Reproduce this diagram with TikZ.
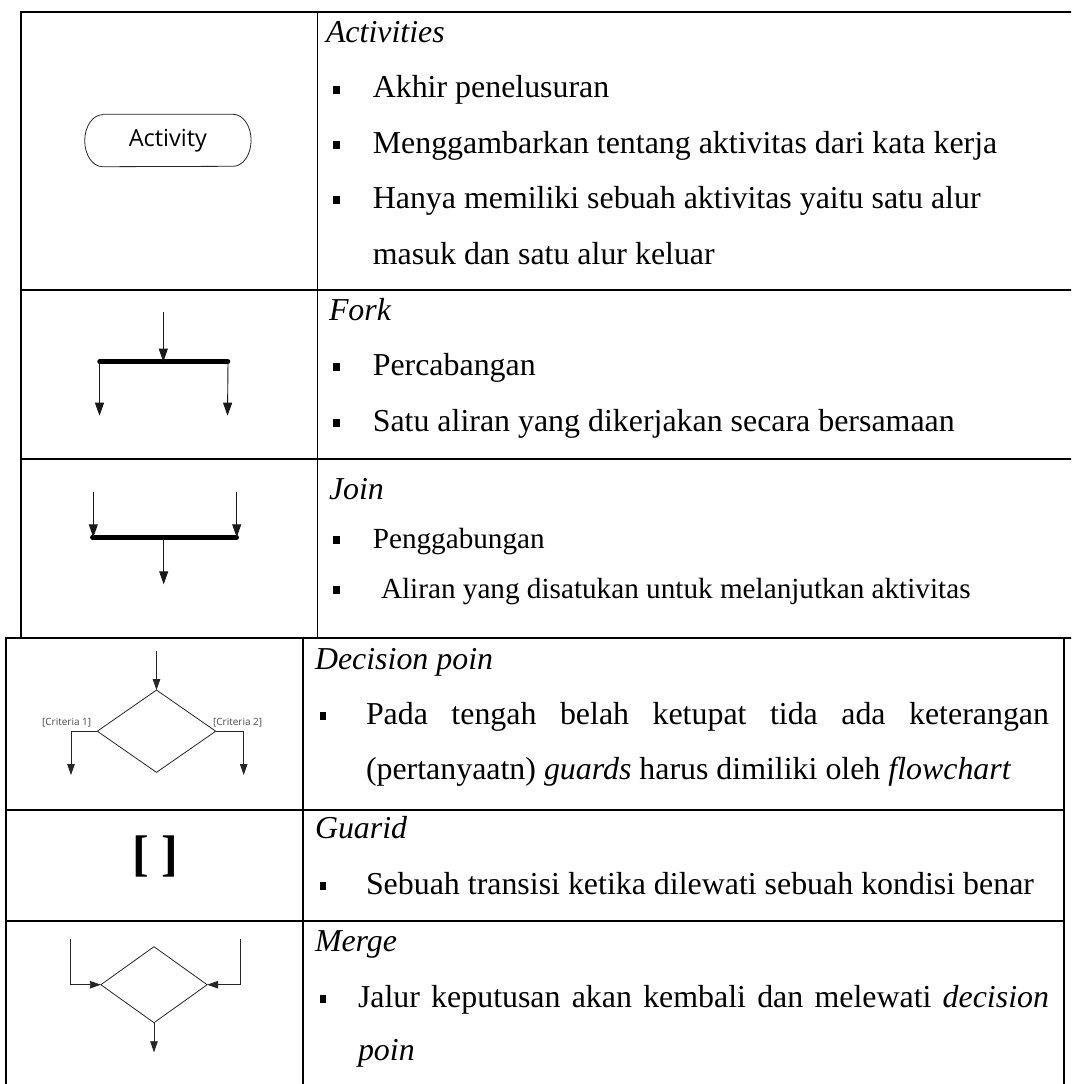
\documentclass[tikz,border=0pt]{standalone}
\usepackage{fontspec}
\setmainfont{Liberation Serif}
\newfontfamily\uisans{Open Sans}
\newfontfamily\brackfont{Liberation Serif}
\usetikzlibrary{arrows.meta,shapes.geometric}

\begin{document}
\begin{tikzpicture}[x=1pt,y=-1pt,
  grid/.style={line width=1.9pt, line cap=rect},
  flow/.style={line width=0.9pt, draw=black!90, -{Triangle[width=9pt,length=13pt]}},
  thinflow/.style={line width=0.8pt, draw=black!85, -{Triangle[width=7.5pt,length=11pt]}},
  syncbar/.style={line width=4.5pt, line cap=round},
  txt/.style={anchor=base west, inner sep=0pt, outer sep=0pt, font=\fontsize{31.9}{36}\selectfont},
  txtsmall/.style={txt, font=\fontsize{29.2}{33}\selectfont},
  head/.style={txt, font=\fontsize{31.9}{36}\selectfont\itshape},
  bulletbox/.style={fill=black, draw=none, minimum width=6.5pt, minimum height=8pt, inner sep=0pt, outer sep=0pt},
  gate/.style={diamond, draw=black!85, line width=0.8pt, inner sep=0pt, outer sep=0pt},
  guardlabel/.style={font=\uisans\fontsize{10}{12}\selectfont, text=black!70, inner sep=0pt},
]
\useasboundingbox (0,0) rectangle (1071,1084);
\fill[white] (0,0) rectangle (1071,1084);
\clip (0,0) rectangle (1071,1084);

% ---------- table rules ----------
% upper table (Activities, Fork, Join)
\draw[grid] (21,12) -- (1080,12);
\draw[grid] (21,12) -- (21,638);
\draw[grid] (317.5,12) -- (317.5,638);
\draw[grid] (21,290) -- (1080,290);
\draw[grid] (21,459) -- (1080,459);
\draw[grid] (6,638) -- (1080,638);
% lower table (Decision, Guard, Merge)
\draw[grid] (6,638) -- (6,1090);
\draw[grid] (303,638) -- (303,1090);
\draw[grid] (1064,638) -- (1064,1090);
\draw[grid] (6,810) -- (1064,810);
\draw[grid] (6,921) -- (1064,921);

% ---------- Activity ----------
\node[inner sep=0pt, minimum width=166pt, minimum height=52pt,
      font=\uisans\fontsize{23.5}{28}\selectfont] (act) at (167.9,140.5) {Activity};
\draw[draw=black!85, line width=0.8pt]
  ([xshift=18pt]act.north west) -- ([xshift=-18pt]act.north east)
  arc[start angle=90, end angle=-90, x radius=18pt, y radius=26pt]
  -- ([xshift=18pt]act.south west)
  arc[start angle=270, end angle=90, x radius=18pt, y radius=26pt] -- cycle;

\node[head] (hAct) at (326,42) {Activities};
\node[bulletbox] (b11) at (336.5,89.5) {};
\node[txt] (t11) at (372.8,97.5) {Akhir penelusuran};
\node[bulletbox] (b12) at (336.5,144.5) {};
\node[txt] (t12) at (372.8,153) {Menggambarkan tentang aktivitas dari kata kerja};
\node[bulletbox] (b13) at (336.5,200) {};
\node[txt] (t13) at (372.8,208.5) {Hanya memiliki sebuah aktivitas yaitu satu alur};
\node[txt] (t14) at (372.8,264) {masuk dan satu alur keluar};

% ---------- Fork ----------
\coordinate (forkIn) at (163.3,311.7);
\coordinate (forkL) at (99.5,361.7);
\coordinate (forkR) at (228,361.7);
\coordinate (forkOutL) at (99.5,415.7);
\coordinate (forkOutR) at (227.5,415.7);
\draw[syncbar] (forkL) -- (forkR);
\draw[flow] (forkIn) -- (forkIn |- forkL);
\draw[flow] (forkL) -- (forkOutL);
\draw[flow] (forkR) -- (forkOutR);

\node[head] (hFork) at (329,320) {Fork};
\node[bulletbox] (b21) at (336.5,366.5) {};
\node[txt] (t21) at (372.8,375) {Percabangan};
\node[bulletbox] (b22) at (336.5,422.5) {};
\node[txt] (t22) at (372.8,431) {Satu aliran yang dikerjakan secara bersamaan};

% ---------- Join ----------
\coordinate (joinInL) at (93.3,491.7);
\coordinate (joinInR) at (236.7,491.7);
\coordinate (joinL) at (92.3,537.3);
\coordinate (joinR) at (236.7,537.3);
\coordinate (joinMid) at (163.7,537.3);
\coordinate (joinOut) at (163.7,584.3);
\draw[syncbar] (joinL) -- (joinR);
\draw[flow] (joinInL) -- (joinInL |- joinL);
\draw[flow] (joinInR) -- (joinInR |- joinR);
\draw[flow] (joinMid) -- (joinOut);

\node[head] (hJoin) at (329,499) {Join};
\node[bulletbox] (b31) at (336.5,540) {};
\node[txtsmall] (t31) at (372.8,548) {Penggabungan};
\node[bulletbox] (b32) at (336.5,590) {};
\node[txtsmall] (t32) at (381,598) {Aliran yang disatukan untuk melanjutkan aktivitas};

% ---------- Decision ----------
\node[gate, minimum width=118.4pt, minimum height=82.3pt] (dec) at (156.5,731.2) {};
\coordinate (decIn) at (156.5,651);
\coordinate (decOutL) at (71,775);
\coordinate (decOutR) at (243.7,775);
\draw[thinflow] (decIn) -- (dec.north);
\draw[thinflow] (dec.west) -| (decOutL);
\draw[thinflow] (dec.east) -| (decOutR);
\node[guardlabel] (crit1) at (66.7,722.3) {[Criteria 1]};
\node[guardlabel] (crit2) at (237.7,722.3) {[Criteria 2]};

\node[head] (hDec) at (315,669) {Decision poin};
\node[bulletbox] (b41) at (323,715.5) {};
\node[txt] (t41) at (366,724) {\makebox[683pt][s]{Pada tengah belah ketupat tida ada keterangan}};
\node[txt] (t42) at (366,779) {(pertanyaatn) \textit{guards} harus dimiliki oleh \textit{flowchart}};

% ---------- Guard ----------
\node[font=\brackfont\bfseries\fontsize{50}{54}\selectfont, inner sep=0pt] (guard) at (155.5,856) {[ ]};

\node[head] (hGuard) at (315,838) {Guarid};
\node[bulletbox] (b51) at (323,885.5) {};
\node[txt] (t51) at (366,894) {Sebuah transisi ketika dilewati sebuah kondisi benar};

% ---------- Merge ----------
\node[gate, minimum width=106.3pt, minimum height=76pt] (mer) at (154,984.7) {};
\coordinate (merInL) at (70.3,939);
\coordinate (merInR) at (240.7,939);
\coordinate (merOut) at (154,1052.3);
\draw[thinflow] (merInL) |- (mer.west);
\draw[thinflow] (merInR) |- (mer.east);
\draw[thinflow] (mer.south) -- (merOut);

\node[head] (hMerge) at (315,951) {Merge};
\node[bulletbox] (b61) at (323,998.5) {};
\node[txt] (t61) at (358,1007) {\makebox[691pt][s]{Jalur keputusan akan kembali dan melewati \textit{decision}}};
\node[txt] (t62) at (358,1060) {\textit{poin}};
\end{tikzpicture}
\end{document}
